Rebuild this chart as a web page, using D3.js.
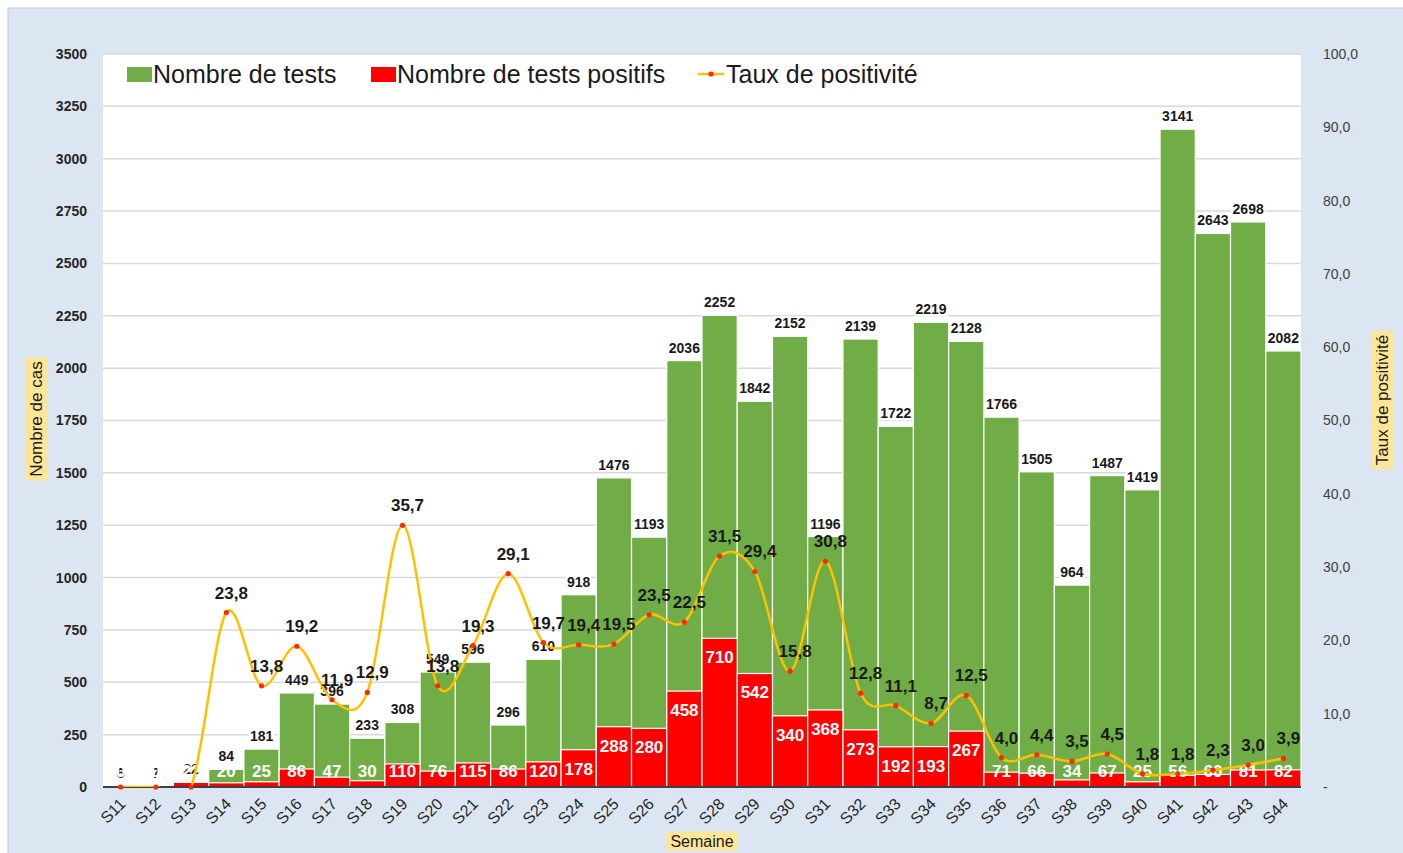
<!DOCTYPE html>
<html>
<head>
<meta charset="utf-8">
<title>Tests et taux de positivité par semaine</title>
<style>
  body { margin: 0; background: #fff; }
  text { font-family: "Liberation Sans", Arial, sans-serif; }
</style>
</head>
<body>
<script src="https://d3js.org/d3.v7.min.js"></script>
<script>
// values
var weeks = ["S11","S12","S13","S14","S15","S16","S17","S18","S19","S20","S21","S22",
             "S23","S24","S25","S26","S27","S28","S29","S30","S31","S32","S33","S34",
             "S35","S36","S37","S38","S39","S40","S41","S42","S43","S44"];
var tests = [6, 7, 22, 84, 181, 449, 396, 233, 308, 549, 596, 296,
             610, 918, 1476, 1193, 2036, 2252, 1842, 2152, 1196, 2139, 1722, 2219,
             2128, 1766, 1505, 964, 1487, 1419, 3141, 2643, 2698, 2082];
var positives = [0, 0, 22, 20, 25, 86, 47, 30, 110, 76, 115, 86,
                 120, 178, 288, 280, 458, 710, 542, 340, 368, 273, 192, 193,
                 267, 71, 66, 34, 67, 25, 56, 60, 81, 82];
var rates = [0, 0, 0, 23.8, 13.8, 19.2, 11.9, 12.9, 35.7, 13.8, 19.3, 29.1,
             19.7, 19.4, 19.5, 23.5, 22.5, 31.5, 29.4, 15.8, 30.8, 12.8, 11.1, 8.7,
             12.5, 4.0, 4.4, 3.5, 4.5, 1.8, 1.8, 2.3, 3.0, 3.9];
var leftTicks = d3.range(0, 3501, 250);
var rightTicks = d3.range(0, 101, 10);
var legendItems = ["Nombre de tests", "Nombre de tests positifs", "Taux de positivité"];

var width = 1403, height = 853;
var plot = {left: 103, right: 1301, top: 54, bottom: 787};
var comma = function (v) { return v.toFixed(1).replace(".", ","); };

var svg = d3.select("body").append("svg")
    .attr("width", width)
    .attr("height", height);

svg.append("clipPath").attr("id", "plotclip")
  .append("rect")
    .attr("x", plot.left).attr("y", plot.top)
    .attr("width", plot.right - plot.left)
    .attr("height", plot.bottom - plot.top);

// chart background
svg.append("rect")
    .attr("x", 8).attr("y", 8)
    .attr("width", width).attr("height", height)
    .attr("fill", "#dce6f2")
    .attr("stroke", "#c8c8c8");

svg.append("rect")
    .attr("x", plot.left).attr("y", plot.top)
    .attr("width", plot.right - plot.left)
    .attr("height", plot.bottom - plot.top)
    .attr("fill", "#fff");

var x = d3.scaleBand().domain(weeks).range([plot.left, plot.right]).padding(0);
var y = d3.scaleLinear().domain([0, 3500]).range([plot.bottom, plot.top]);
var y2 = d3.scaleLinear().domain([0, 100]).range([plot.bottom, plot.top]);
var band = x.bandwidth();
var cx = function (i) { return x(weeks[i]) + band / 2; };

// gridlines
svg.append("g")
    .selectAll("line")
    .data(leftTicks.filter(function (d) { return d > 0; }))
    .enter().append("line")
    .attr("x1", plot.left).attr("x2", plot.right)
    .attr("y1", function (d) { return y(d); })
    .attr("y2", function (d) { return y(d); })
    .attr("stroke", "#d9d9d9")
    .attr("stroke-width", 1.5);

// left axis
var gLeft = svg.append("g")
    .attr("transform", "translate(" + plot.left + ",0)")
    .call(d3.axisLeft(y).tickValues(leftTicks).tickSize(0).tickPadding(16).tickFormat(d3.format("d")));
gLeft.select(".domain").remove();
gLeft.selectAll("text")
    .attr("font-size", 14).attr("font-weight", "bold")
    .attr("fill", "#262626")
    .attr("font-family", "Liberation Sans, Arial, sans-serif");

// right axis
var gRight = svg.append("g")
    .attr("transform", "translate(" + plot.right + ",0)")
    .call(d3.axisRight(y2).tickValues(rightTicks).tickSize(0).tickPadding(22)
        .tickFormat(function (d) { return d === 0 ? "-" : comma(d); }));
gRight.select(".domain").remove();
gRight.selectAll("text")
    .attr("font-size", 14)
    .attr("fill", "#404040")
    .attr("font-family", "Liberation Sans, Arial, sans-serif");

// bars: total tests behind, positives in front
svg.append("g")
    .selectAll("rect")
    .data(weeks)
    .enter().append("rect")
    .attr("x", function (d) { return x(d); })
    .attr("width", band)
    .attr("y", function (d, i) { return y(tests[i]); })
    .attr("height", function (d, i) { return y(0) - y(tests[i]); })
    .attr("fill", "#70ad47")
    .attr("stroke", "#fff")
    .attr("stroke-width", 1.2);

svg.append("g")
    .selectAll("rect")
    .data(weeks)
    .enter().append("rect")
    .attr("x", function (d) { return x(d); })
    .attr("width", band)
    .attr("y", function (d, i) { return y(positives[i]); })
    .attr("height", function (d, i) { return y(0) - y(positives[i]); })
    .attr("fill", "#ff0000")
    .attr("stroke", "#fff")
    .attr("stroke-width", 1.2);

// x axis line
svg.append("line")
    .attr("x1", plot.left).attr("x2", plot.right)
    .attr("y1", y(0)).attr("y2", y(0))
    .attr("stroke", "#404040")
    .attr("stroke-width", 2);

// x tick labels
svg.append("g")
    .selectAll("text")
    .data(weeks)
    .enter().append("text")
    .attr("transform", function (d, i) {
        return "translate(" + (cx(i) + 6) + "," + 805 + ") rotate(-45)";
    })
    .attr("text-anchor", "end")
    .attr("font-size", 16)
    .attr("fill", "#262626")
    .text(function (d) { return d; });

// labels for total tests (white box behind)
var testLabels = svg.append("g");
weeks.forEach(function (d, i) {
    var g = testLabels.append("g");
    var t = g.append("text")
        .attr("x", cx(i))
        .attr("y", y(tests[i]) - 8)
        .attr("text-anchor", "middle")
        .attr("font-size", 14)
        .attr("font-weight", "bold")
        .attr("fill", "#1a1a1a")
        .text(tests[i]);
    var bb = t.node().getBBox();
    g.insert("rect", "text")
        .attr("x", bb.x - 1).attr("y", bb.y + 1)
        .attr("width", bb.width + 2).attr("height", bb.height - 2)
        .attr("fill", "#fff");
});

// labels for positives (white, inside top)
svg.append("g")
    .selectAll("text")
    .data(weeks)
    .enter().append("text")
    .attr("x", function (d, i) { return cx(i); })
    .attr("y", function (d, i) { return Math.min(y(positives[i]) + 19, 771) + 6; })
    .attr("text-anchor", "middle")
    .attr("font-size", 17)
    .attr("font-weight", "bold")
    .attr("fill", "#fff")
    .text(function (d, i) { return positives[i]; });

// positivity rate line
var line = d3.line()
    .x(function (d, i) { return cx(i); })
    .y(function (d) { return y2(d); })
    .curve(d3.curveCardinal.tension(0));

svg.append("path")
    .datum(rates)
    .attr("clip-path", "url(#plotclip)")
    .attr("d", line)
    .attr("fill", "none")
    .attr("stroke", "#ffc000")
    .attr("stroke-width", 2.5);

svg.append("g")
    .selectAll("circle")
    .data(rates)
    .enter().append("circle")
    .attr("cx", function (d, i) { return cx(i); })
    .attr("cy", function (d) { return y2(d); })
    .attr("r", 2.6)
    .attr("fill", "#ff2a00");

var rateIdx = d3.range(rates.length).filter(function (i) { return rates[i] > 0; });
svg.append("g")
    .selectAll("text")
    .data(rateIdx)
    .enter().append("text")
    .attr("x", function (i) { return cx(i) + 5; })
    .attr("y", function (i) { return y2(rates[i]) - 14; })
    .attr("text-anchor", "middle")
    .attr("font-size", 17)
    .attr("font-weight", "bold")
    .attr("fill", "#1a1a1a")
    .text(function (i) { return comma(rates[i]); });

// legend
var legend = svg.append("g").attr("font-size", 25).attr("fill", "#1a1a1a");
legend.append("rect").attr("x", 127).attr("y", 67).attr("width", 25).attr("height", 15).attr("fill", "#70ad47");
legend.append("text").attr("x", 153).attr("y", 83).text(legendItems[0]);
legend.append("rect").attr("x", 371).attr("y", 67).attr("width", 25).attr("height", 15).attr("fill", "#ff0000");
legend.append("text").attr("x", 397).attr("y", 83).text(legendItems[1]);
legend.append("line").attr("x1", 698).attr("x2", 724).attr("y1", 74).attr("y2", 74)
    .attr("stroke", "#ffc000").attr("stroke-width", 2.5);
legend.append("circle").attr("cx", 711).attr("cy", 74).attr("r", 2.6).attr("fill", "#ff2a00");
legend.append("text").attr("x", 726).attr("y", 83).text(legendItems[2]);

// axis titles with yellow boxes
function boxedTitle(label, tx, ty, rotate, size) {
    var g = svg.append("g").attr("transform", "translate(" + tx + "," + ty + ") rotate(" + rotate + ")");
    var t = g.append("text")
        .attr("text-anchor", "middle")
        .attr("dy", "0.35em")
        .attr("font-size", size)
        .attr("fill", "#1a1a1a")
        .text(label);
    var bb = t.node().getBBox();
    g.insert("rect", "text")
        .attr("x", bb.x - 4).attr("y", bb.y - 1)
        .attr("width", bb.width + 8).attr("height", bb.height + 2)
        .attr("fill", "#ffe699");
}
boxedTitle("Nombre de cas", 36, 419, -90, 17);
boxedTitle("Taux de positivité", 1382, 400, -90, 17);
boxedTitle("Semaine", (plot.left + plot.right) / 2, 841, 0, 16);
</script>
</body>
</html>
